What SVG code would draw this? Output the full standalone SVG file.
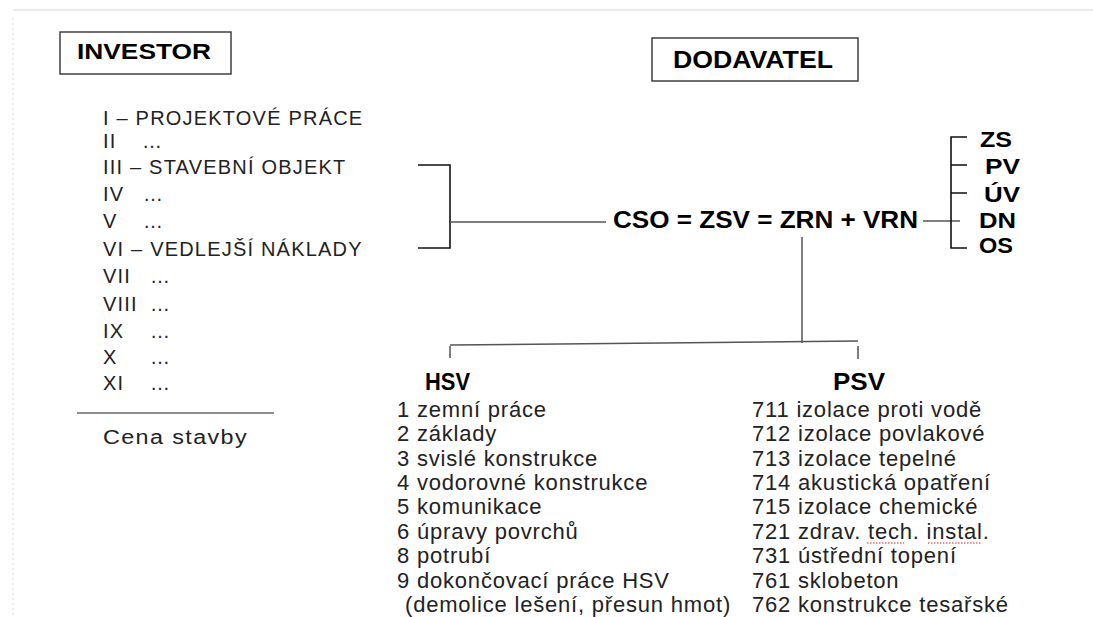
<svg xmlns="http://www.w3.org/2000/svg" width="1093" height="617" viewBox="0 0 1093 617">
<style>
.t{font-family:"Liberation Sans",Arial,sans-serif;font-size:20px;fill:#222;letter-spacing:1.2px}
.b{font-family:"Liberation Sans",Arial,sans-serif;font-weight:bold;fill:#000}
.l{font-family:"Liberation Sans",Arial,sans-serif;font-size:22px;fill:#222;letter-spacing:0.8px}
.ln{stroke:#555;stroke-width:1.5;fill:none}
.bk{stroke:#111;stroke-width:1.6;fill:none}
.box{fill:#fff;stroke:#333;stroke-width:1.4}
.sq{stroke:#e02020;stroke-width:1;fill:none;stroke-dasharray:1.5 1.5}
</style>
<rect width="1093" height="617" fill="#fff"/>
<line x1="13" y1="10" x2="1093" y2="10" stroke="#ebebeb" stroke-width="2"/>
<line x1="13" y1="18" x2="13" y2="617" stroke="#d8d8d8" stroke-width="1" stroke-dasharray="2 3"/>

<g id="investor">
<rect class="box" x="60" y="32" width="171" height="42"/>
<text class="b" x="77" y="59" font-size="22" textLength="134" lengthAdjust="spacingAndGlyphs">INVESTOR</text>
</g>

<g id="dodavatel">
<rect class="box" x="652" y="38" width="206" height="43"/>
<text class="b" x="673" y="68" font-size="24" textLength="160" lengthAdjust="spacingAndGlyphs">DODAVATEL</text>
</g>

<g id="investor-list">
<text class="t" x="103" y="125">I – PROJEKTOVÉ PRÁCE</text>
<text class="t" y="148"><tspan x="103">II</tspan><tspan x="142">…</tspan></text>
<text class="t" x="103" y="174">III – STAVEBNÍ OBJEKT</text>
<text class="t" y="201"><tspan x="103">IV</tspan><tspan x="143">…</tspan></text>
<text class="t" y="228"><tspan x="103">V</tspan><tspan x="143">…</tspan></text>
<text class="t" x="103" y="256">VI – VEDLEJŠÍ NÁKLADY</text>
<text class="t" y="283"><tspan x="103">VII</tspan><tspan x="150">…</tspan></text>
<text class="t" y="311"><tspan x="103">VIII</tspan><tspan x="150">…</tspan></text>
<text class="t" y="338"><tspan x="103">IX</tspan><tspan x="150">…</tspan></text>
<text class="t" y="364"><tspan x="103">X</tspan><tspan x="150">…</tspan></text>
<text class="t" y="390"><tspan x="103">XI</tspan><tspan x="150">…</tspan></text>
<line x1="77" y1="413" x2="274" y2="413" stroke="#666" stroke-width="1.5"/>
<text class="t" x="103" y="444" font-size="21" textLength="145" lengthAdjust="spacingAndGlyphs">Cena stavby</text>
</g>

<g id="cso">
<text class="b" x="613" y="228" font-size="24" textLength="305" lengthAdjust="spacingAndGlyphs">CSO = ZSV = ZRN + VRN</text>
</g>

<g id="vrn-items">
<text class="b" x="980" y="147" font-size="22" textLength="32" lengthAdjust="spacingAndGlyphs">ZS</text>
<text class="b" x="985" y="174" font-size="22" textLength="35" lengthAdjust="spacingAndGlyphs">PV</text>
<text class="b" x="984" y="202" font-size="22" textLength="36" lengthAdjust="spacingAndGlyphs">ÚV</text>
<text class="b" x="979" y="228" font-size="22" textLength="37" lengthAdjust="spacingAndGlyphs">DN</text>
<text class="b" x="979" y="253" font-size="22" textLength="34" lengthAdjust="spacingAndGlyphs">OS</text>
</g>

<g id="hsv">
<text class="b" x="425" y="390" font-size="24" textLength="45" lengthAdjust="spacingAndGlyphs">HSV</text>
<text class="l" x="397" y="417">1 zemní práce</text>
<text class="l" x="397" y="441">2 základy</text>
<text class="l" x="397" y="466">3 svislé konstrukce</text>
<text class="l" x="397" y="490">4 vodorovné konstrukce</text>
<text class="l" x="397" y="514">5 komunikace</text>
<text class="l" x="397" y="539">6 úpravy povrchů</text>
<text class="l" x="397" y="563">8 potrubí</text>
<text class="l" x="397" y="588">9 dokončovací práce HSV</text>
<text class="l" x="405" y="612">(demolice lešení, přesun hmot)</text>
</g>

<g id="psv">
<text class="b" x="833" y="390" font-size="24" textLength="52" lengthAdjust="spacingAndGlyphs">PSV</text>
<text class="l" x="752" y="417">711 izolace proti vodě</text>
<text class="l" x="752" y="441">712 izolace povlakové</text>
<text class="l" x="752" y="466">713 izolace tepelné</text>
<text class="l" x="752" y="490">714 akustická opatření</text>
<text class="l" x="752" y="514">715 izolace chemické</text>
<text class="l" x="752" y="539">721 zdrav. tech. instal.</text>
<text class="l" x="752" y="563">731 ústřední topení</text>
<text class="l" x="752" y="588">761 sklobeton</text>
<text class="l" x="752" y="612">762 konstrukce tesařské</text>
<path class="sq" d="M867 543 L904 543 M928 543 L982 543"/>
</g>

<g id="connectors">
<path class="bk" d="M418 165 H450 V248 H418"/>
<line class="ln" x1="450" y1="222" x2="606" y2="222"/>
<line class="ln" x1="923" y1="221" x2="960" y2="221"/>
<path class="bk" d="M967 137 H951 V248 H967 M951 165 H967 M951 193 H967"/>
<line class="ln" x1="802" y1="237" x2="802" y2="343"/>
<line class="ln" x1="450" y1="345" x2="858" y2="341"/>
<line class="ln" x1="450" y1="346" x2="450" y2="358"/>
<line class="ln" x1="858" y1="346" x2="858" y2="359"/>
</g>
</svg>
